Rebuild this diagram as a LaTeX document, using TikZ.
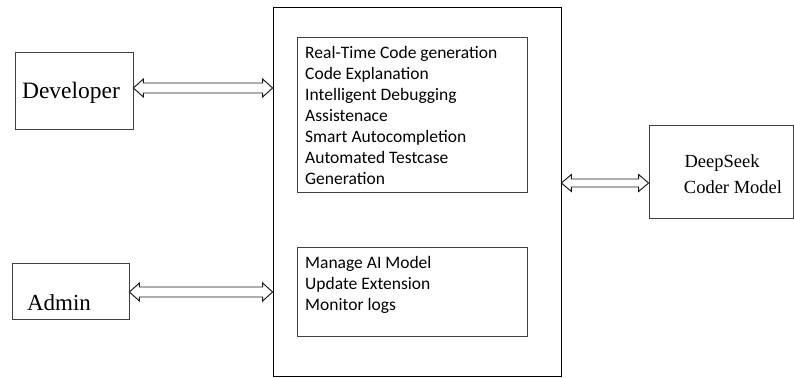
\documentclass[tikz,border=0pt]{standalone}
\usepackage{fontspec}
\setmainfont{Liberation Serif}
\newfontfamily\calibrifont{Carlito}
\usetikzlibrary{calc}
\newcommand\dblarr[4]{%
  \draw[arrline] let \p1=(#1), \p2=(#2) in
    (\x1,\y1) -- (\x1+10pt,\y1+#3) -- (\x1+10pt,\y1+#4) -- (\x2-10pt,\y1+#4)
    -- (\x2-10pt,\y1+#3) -- (\x2,\y1) -- (\x2-10pt,\y1-#3) -- (\x2-10pt,\y1-#4)
    -- (\x1+10pt,\y1-#4) -- (\x1+10pt,\y1-#3) -- cycle;}
\begin{document}
\begin{tikzpicture}[x=1pt,y=-1pt,
  box/.style={draw=black!75, line width=0.85pt, minimum width=#1, inner sep=0pt},
  arrline/.style={draw=black!90, line width=0.95pt, line join=miter},
  serif/.style={font=\fontsize{23.5}{26}\selectfont, inner sep=0pt},
  inner/.style={anchor=north west, align=left, inner sep=0pt,
    font=\calibrifont\fontsize{17.5}{21}\selectfont}]
\useasboundingbox (0,0) rectangle (794,377);
% boxes
\node[box=288pt, minimum height=369pt, draw=black, line width=0.8pt] (main) at (417,191.5) {};
\node[box=230pt, minimum height=155pt] (feat) at (412,114.5) {};
\node[box=230pt, minimum height=89pt] (adm) at (412,291.5) {};
\node[box=118pt, minimum height=77pt] (dev) at (74,90.5) {};
\node[box=117pt, minimum height=56pt] (admin) at (70.5,291) {};
\node[box=144pt, minimum height=93pt] (ds) at (721,171.5) {};
% texts
\node[serif] (devt) at (71,93) {Developer};
\node[serif, font=\fontsize{23}{26}\selectfont] (admt) at (59,303) {Admin};
\node[serif, font=\fontsize{18.5}{21}\selectfont] (dst1) at (722,163) {DeepSeek};
\node[serif, font=\fontsize{18.5}{21}\selectfont] (dst2) at (733,187) {Coder Model};
\node[inner] (ft) at (305,46) {Real-Time Code generation\\Code Explanation\\Intelligent Debugging\\Assistenace\\Smart Autocompletion\\Automated Testcase\\Generation};
\node[inner] (at) at (305,256) {Manage AI Model\\Update Extension\\Monitor logs};
% arrows
\coordinate (y1) at (0,88);
\coordinate (y2) at (0,292);
\coordinate (y3) at (0,183);
\dblarr{dev.east |- y1}{main.west |- y1}{9pt}{5pt}
\dblarr{admin.east |- y2}{main.west |- y2}{9pt}{5pt}
\dblarr{main.east |- y3}{ds.west |- y3}{8.5pt}{4pt}
\end{tikzpicture}
\end{document}
